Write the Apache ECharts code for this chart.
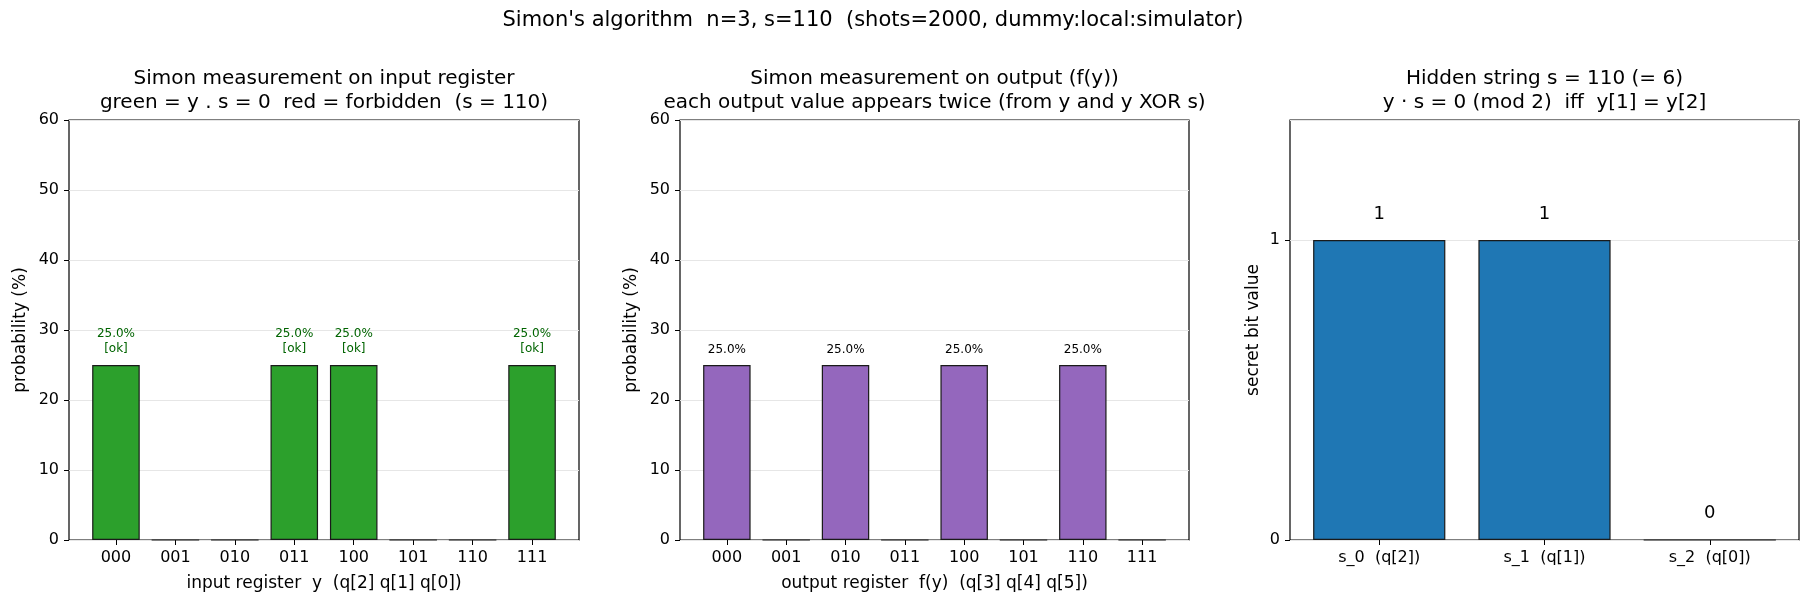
<!DOCTYPE html>
<html>
<head>
<meta charset="utf-8">
<script src="https://cdn.jsdelivr.net/npm/echarts@6/dist/echarts.min.js"></script>
<style>
  html, body { margin: 0; padding: 0; background: #fff; }
  #main { width: 1811px; height: 604px; }
</style>
</head>
<body>
<div id="main"></div>
<script>
// ---- data ----
var inputStates = ['000', '001', '010', '011', '100', '101', '110', '111'];
var inputProb = [25.0, 0, 0, 25.0, 25.0, 0, 0, 25.0];
var inputTags = ['[ok]', '', '', '[ok]', '[ok]', '', '', '[ok]'];

var outputStates = ['000', '001', '010', '011', '100', '101', '110', '111'];
var outputProb = [25.0, 0, 25.0, 0, 25.0, 0, 25.0, 0];

var secretBits = ['s_0  (q[2])', 's_1  (q[1])', 's_2  (q[0])'];
var secretValues = [1, 1, 0];

var probTicks = [0, 10, 20, 30, 40, 50, 60];
var bitTicks = [0, 1];

const FONT = 'DejaVu Sans';
const GREEN = '#2ca02c';
const PURPLE = '#9467bd';
const BLUE = '#1f77b4';

// panel frames (px), same as the matplotlib axes boxes
var panels = [
  { left: 69, right: 579 },
  { left: 680, right: 1189 },
  { left: 1290, right: 1799 }
];
const TOP = 120;
const BOTTOM = 540;
const W = 1811, H = 604;

// matplotlib keeps 5% margin around the bars, so the band axis sits inset in the frame
function insetFor(n) {
  var span = (n - 1) + 0.8;
  var total = span * 1.1;
  return (total - n) / 2 / total;
}

function panelGrids(i, n) {
  var p = panels[i];
  var w = p.right - p.left;
  var inset = insetFor(n) * w;
  return [
    { left: p.left, top: TOP, width: w, height: BOTTOM - TOP,
      show: true, borderColor: '#000', borderWidth: 1.2, backgroundColor: 'transparent' },
    { left: p.left + inset, top: TOP, width: w - 2 * inset, height: BOTTOM - TOP }
  ];
}

function frameX(gi) {
  return { gridIndex: gi, type: 'value', min: 0, max: 1, show: false };
}

function bandX(gi, cats, name) {
  return {
    gridIndex: gi, type: 'category', data: cats,
    axisLine: { show: false },
    axisTick: { show: true, alignWithLabel: true, length: 5, lineStyle: { color: '#000' } },
    axisLabel: { color: '#000', fontFamily: FONT, fontSize: 16, margin: 10 },
    name: name, nameLocation: 'middle', nameGap: 35,
    nameTextStyle: { color: '#000', fontFamily: FONT, fontSize: 17 }
  };
}

function frameY(gi, ticks, top, name, gap) {
  return {
    gridIndex: gi, type: 'value',
    min: ticks[0], max: top,
    interval: ticks[1] - ticks[0],
    axisLine: { show: false },
    axisTick: { show: true, length: 5, lineStyle: { color: '#000' } },
    axisLabel: { color: '#000', fontFamily: FONT, fontSize: 16, margin: 10,
      showMaxLabel: top === ticks[ticks.length - 1] },
    splitLine: { show: true, lineStyle: { color: '#e6e6e6', width: 1 } },
    name: name, nameLocation: 'middle', nameGap: gap,
    nameTextStyle: { color: '#000', fontFamily: FONT, fontSize: 17 }
  };
}

function hiddenY(gi, ticks, top) {
  return { gridIndex: gi, type: 'value', min: ticks[0], max: top, show: false };
}

var grids = [].concat(panelGrids(0, 8), panelGrids(1, 8), panelGrids(2, 3));

var option = {
  animation: false,
  backgroundColor: '#fff',
  grid: grids,
  xAxis: [
    frameX(0), bandX(1, inputStates, 'input register  y  (q[2] q[1] q[0])'),
    frameX(2), bandX(3, outputStates, 'output register  f(y)  (q[3] q[4] q[5])'),
    frameX(4), bandX(5, secretBits, '')
  ],
  yAxis: [
    frameY(0, probTicks, 60, 'probability (%)', 40), hiddenY(1, probTicks, 60),
    frameY(2, probTicks, 60, 'probability (%)', 40), hiddenY(3, probTicks, 60),
    frameY(4, bitTicks, 1.4, 'secret bit value', 28), hiddenY(5, bitTicks, 1.4)
  ],
  series: [
    {
      type: 'bar', xAxisIndex: 1, yAxisIndex: 1, barWidth: '80%',
      data: inputProb,
      itemStyle: { color: GREEN, borderColor: '#1a1a1a', borderWidth: 1.2 },
      label: {
        show: true, position: 'top', distance: 9,
        fontFamily: FONT, fontSize: 12, lineHeight: 15, color: '#006400',
        formatter: function (p) {
          return p.value > 0 ? p.value.toFixed(1) + '%\n' + inputTags[p.dataIndex] : '';
        }
      }
    },
    {
      type: 'bar', xAxisIndex: 3, yAxisIndex: 3, barWidth: '80%',
      data: outputProb,
      itemStyle: { color: PURPLE, borderColor: '#1a1a1a', borderWidth: 1.2 },
      label: {
        show: true, position: 'top', distance: 9,
        fontFamily: FONT, fontSize: 12, color: '#000',
        formatter: function (p) { return p.value > 0 ? p.value.toFixed(1) + '%' : ''; }
      }
    },
    {
      type: 'bar', xAxisIndex: 5, yAxisIndex: 5, barWidth: '80%',
      data: secretValues,
      itemStyle: { color: BLUE, borderColor: '#1a1a1a', borderWidth: 1.2 },
      label: {
        show: true, position: 'top', distance: 17,
        fontFamily: FONT, fontSize: 18, color: '#000',
        formatter: function (p) { return String(p.value); }
      }
    }
  ],
  graphic: [
    { type: 'text', x: 873, y: 21, style: {
        text: "Simon's algorithm  n=3, s=110  (shots=2000, dummy:local:simulator)",
        font: '21px "DejaVu Sans"', fill: '#000', textAlign: 'center', textVerticalAlign: 'middle' } },
    { type: 'text', x: 324, y: 91, style: {
        text: 'Simon measurement on input register\ngreen = y . s = 0  red = forbidden  (s = 110)',
        font: '20px "DejaVu Sans"', lineHeight: 24, fill: '#000', textAlign: 'center', textVerticalAlign: 'middle' } },
    { type: 'text', x: 934.5, y: 91, style: {
        text: 'Simon measurement on output (f(y))\neach output value appears twice (from y and y XOR s)',
        font: '20px "DejaVu Sans"', lineHeight: 24, fill: '#000', textAlign: 'center', textVerticalAlign: 'middle' } },
    { type: 'text', x: 1544.5, y: 91, style: {
        text: 'Hidden string s = 110 (= 6)\ny \u00b7 s = 0 (mod 2)  iff  y[1] = y[2]',
        font: '20px "DejaVu Sans"', lineHeight: 24, fill: '#000', textAlign: 'center', textVerticalAlign: 'middle' } }
  ]
};

var chart = echarts.init(document.getElementById('main'), null, { renderer: 'canvas', width: W, height: H });
chart.setOption(option);
</script>
</body>
</html>
